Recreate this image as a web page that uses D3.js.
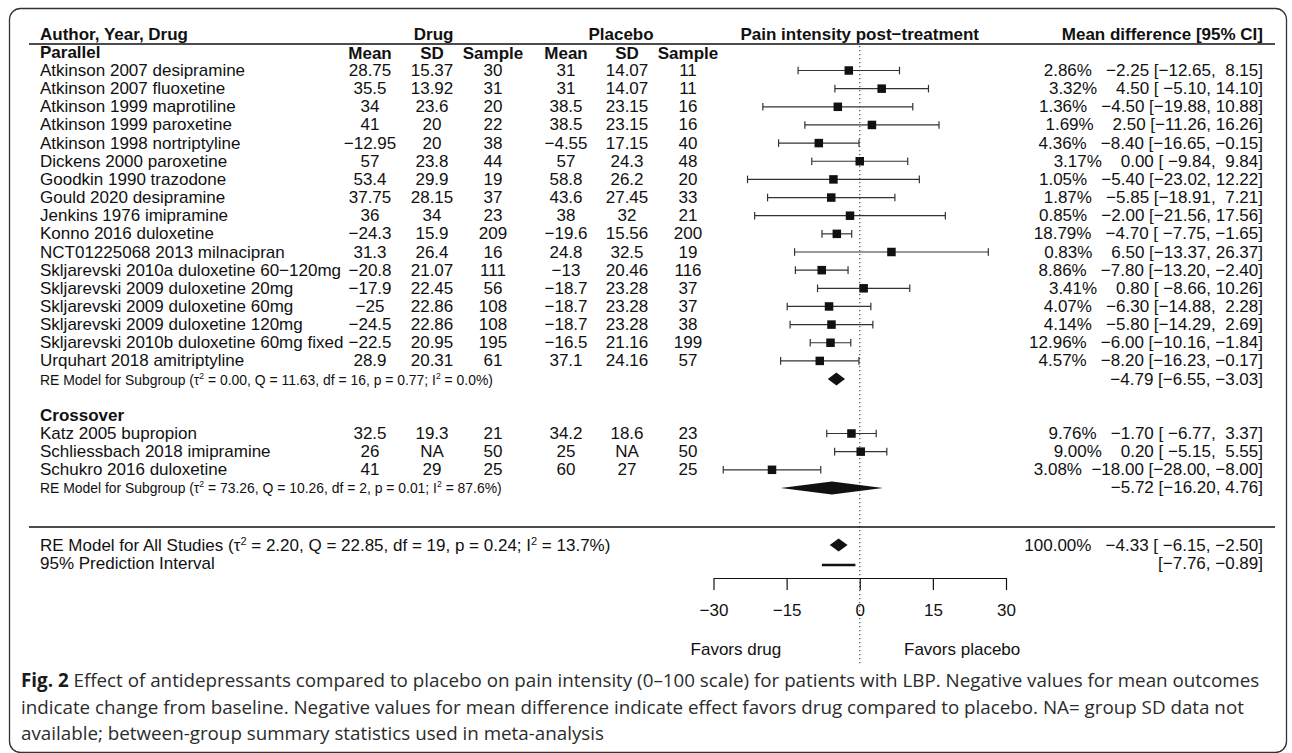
<!DOCTYPE html>
<html><head><meta charset="utf-8">
<script src="https://cdn.jsdelivr.net/npm/d3@7"></script>
<style>
html,body{margin:0;padding:0;background:#fff;}
svg{display:block;font-family:"Liberation Sans",Arial,Helvetica,sans-serif;}
text{white-space:pre;}
</style></head>
<body>
<svg id="chart" width="1292" height="753"></svg>
<script>
// ---------- DATA ----------
const parallelStudies = ["Atkinson 2007 desipramine","Atkinson 2007 fluoxetine","Atkinson 1999 maprotiline","Atkinson 1999 paroxetine","Atkinson 1998 nortriptyline","Dickens 2000 paroxetine","Goodkin 1990 trazodone","Gould 2020 desipramine","Jenkins 1976 imipramine","Konno 2016 duloxetine","NCT01225068 2013 milnacipran","Skljarevski 2010a duloxetine 60\u2212120mg","Skljarevski 2009 duloxetine 20mg","Skljarevski 2009 duloxetine 60mg","Skljarevski 2009 duloxetine 120mg","Skljarevski 2010b duloxetine 60mg fixed","Urquhart 2018 amitriptyline"];
const parallelDrugMean = [28.75,35.5,34,41,-12.95,57,53.4,37.75,36,-24.3,31.3,-20.8,-17.9,-25,-24.5,-22.5,28.9];
const parallelDrugSD = [15.37,13.92,23.6,20,20,23.8,29.9,28.15,34,15.9,26.4,21.07,22.45,22.86,22.86,20.95,20.31];
const parallelDrugN = [30,31,20,22,38,44,19,37,23,209,16,111,56,108,108,195,61];
const parallelPlacMean = [31,31,38.5,38.5,-4.55,57,58.8,43.6,38,-19.6,24.8,-13,-18.7,-18.7,-18.7,-16.5,37.1];
const parallelPlacSD = [14.07,14.07,23.15,23.15,17.15,24.3,26.2,27.45,32,15.56,32.5,20.46,23.28,23.28,23.28,21.16,24.16];
const parallelPlacN = [11,11,16,16,40,48,20,33,21,200,19,116,37,37,38,199,57];
const parallelWeight = [2.86,3.32,1.36,1.69,4.36,3.17,1.05,1.87,0.85,18.79,0.83,8.86,3.41,4.07,4.14,12.96,4.57];
const parallelMD = [-2.25,4.50,-4.50,2.50,-8.40,0.00,-5.40,-5.85,-2.00,-4.70,6.50,-7.80,0.80,-6.30,-5.80,-6.00,-8.20];
const parallelLo = [-12.65,-5.10,-19.88,-11.26,-16.65,-9.84,-23.02,-18.91,-21.56,-7.75,-13.37,-13.20,-8.66,-14.88,-14.29,-10.16,-16.23];
const parallelHi = [8.15,14.10,10.88,16.26,-0.15,9.84,12.22,7.21,17.56,-1.65,26.37,-2.40,10.26,2.28,2.69,-1.84,-0.17];

const crossStudies = ["Katz 2005 bupropion","Schliessbach 2018 imipramine","Schukro 2016 duloxetine"];
const crossDrugMean = [32.5,26,41];
const crossDrugSD = [19.3,null,29];
const crossDrugN = [21,50,25];
const crossPlacMean = [34.2,25,60];
const crossPlacSD = [18.6,null,27];
const crossPlacN = [23,50,25];
const crossWeight = [9.76,9.00,3.08];
const crossMD = [-1.70,0.20,-18.00];
const crossLo = [-6.77,-5.15,-28.00];
const crossHi = [3.37,5.55,-8.00];

// summary estimates [est, lo, hi]
const parallelRE = [-4.79,-6.55,-3.03];
const crossRE = [-5.72,-16.20,4.76];
const overallRE = [-4.33,-6.15,-2.50];
const predInterval = [-7.76,-0.89];
// heterogeneity stats [tau2, Q, df, p, I2]
const parallelStats = ["0.00","11.63","16","0.77","0.0"];
const crossStats = ["73.26","10.26","2","0.01","87.6"];
const overallStats = ["2.20","22.85","19","0.24","13.7"];

const xTicks = [-30,-15,0,15,30];
const headerCols = ["Mean","SD","Sample"];
const captionLines = [
  ["Fig. 2", " Effect of antidepressants compared to placebo on pain intensity (0\u2013100 scale) for patients with LBP. Negative values for mean outcomes"],
  ["", "indicate change from baseline. Negative values for mean difference indicate effect favors drug compared to placebo. NA= group SD data not"],
  ["", "available; between-group summary statistics used in meta-analysis"]
];

// ---------- LAYOUT ----------
const svg = d3.select("#chart");
const FS = 17;
const xLeft = 40;
const colDrug = [370, 432, 493];
const colPlac = [566, 627, 688];
const rightEdge = 1263;

const x = d3.scaleLinear().domain([-30,30]).range([713.5,1006]);
const y = d3.scaleLinear().domain([0,1]).range([76,94.15]); // baseline of row i
const yc = i => y(i) - 5.5;

const minus = s => String(s).replace(/-/g,"\u2212");
const fmtNum = v => v === null ? "NA" : minus(v);
const pad = (s,w) => " ".repeat(Math.max(0,w - s.length)) + s;
const f2 = v => minus(v.toFixed(2));

function txt(xp, yp, s, o = {}) {
  const t = svg.append("text")
    .attr("transform", `translate(${xp},${yp}) scale(${o.sx||1},1)`)
    .attr("text-anchor", o.anchor || "start")
    .attr("xml:space","preserve")
    .style("font-size", (o.size||FS)+"px")
    .style("font-weight", o.weight||"normal")
    .style("fill", o.fill||"#111");
  if (o.family) t.style("font-family", o.family);
  t.text(s);
  return t;
}
function statText(xp, yp, label, st, size, sx) {
  const t = svg.append("text")
    .attr("transform", `translate(${xp},${yp}) scale(${sx},1)`)
    .attr("xml:space","preserve")
    .style("font-size", size+"px").style("fill","#111");
  const sup = Math.round(size*0.38), ss = Math.round(size*0.62);
  t.append("tspan").text(label + " (\u03c4");
  t.append("tspan").attr("dy",-sup).style("font-size",ss+"px").text("2");
  t.append("tspan").attr("dy",sup).text(` = ${st[0]}, Q = ${st[1]}, df = ${st[2]}, p = ${st[3]}; I`);
  t.append("tspan").attr("dy",-sup).style("font-size",ss+"px").text("2");
  t.append("tspan").attr("dy",sup).text(` = ${st[4]}%)`);
}

// outer box
svg.append("rect").attr("x",9.5).attr("y",8.5).attr("width",1277).attr("height",744)
  .attr("rx",11).attr("fill","none").attr("stroke","#333").attr("stroke-width",1.3);

// zero reference line
svg.append("line").attr("x1",x(0)).attr("x2",x(0)).attr("y1",46).attr("y2",666)
  .attr("stroke","#222").attr("stroke-width",1).attr("stroke-dasharray","1.2,2.8");

// headers
txt(xLeft, y(-2), "Author, Year, Drug", {weight:"bold"});
txt(d3.mean(colDrug)+2, y(-2), "Drug", {weight:"bold", anchor:"middle"});
txt(d3.mean(colPlac)-6, y(-2), "Placebo", {weight:"bold", anchor:"middle"});
txt(x(0), y(-2), "Pain intensity post\u2212treatment", {weight:"bold", anchor:"middle"});
txt(rightEdge, y(-2), "Mean difference [95% CI]", {weight:"bold", anchor:"end"});
svg.append("line").attr("x1",29).attr("x2",1275).attr("y1",44).attr("y2",44).attr("stroke","#111").attr("stroke-width",1.5);
txt(xLeft, y(-1), "Parallel", {weight:"bold"});
headerCols.forEach((h,k)=>{
  txt(colDrug[k], y(-1)+1, h, {weight:"bold", anchor:"middle"});
  txt(colPlac[k], y(-1)+1, h, {weight:"bold", anchor:"middle"});
});

function annot(w, e, l, h) {
  return `${w.toFixed(2)}%  ${pad(f2(e),6)} [${pad(f2(l),6)}, ${pad(f2(h),5)}]`;
}

function drawStudy(row, name, dm, dsd, dn, pm, psd, pn, w, e, l, h) {
  txt(xLeft, y(row), name);
  [dm,dsd,dn].forEach((v,k)=>txt(colDrug[k], y(row), fmtNum(v), {anchor:"middle"}));
  [pm,psd,pn].forEach((v,k)=>txt(colPlac[k], y(row), fmtNum(v), {anchor:"middle"}));
  const cy = yc(row);
  svg.append("line").attr("x1",x(l)).attr("x2",x(h)).attr("y1",cy).attr("y2",cy).attr("stroke","#333").attr("stroke-width",1.2);
  [l,h].forEach(v=>svg.append("line").attr("x1",x(v)).attr("x2",x(v)).attr("y1",cy-3.8).attr("y2",cy+3.8).attr("stroke","#333").attr("stroke-width",1.2));
  const s = 8.5;
  svg.append("rect").attr("x",x(e)-s/2).attr("y",cy-s/2).attr("width",s).attr("height",s).attr("fill","#111");
  txt(rightEdge, y(row), annot(w,e,l,h), {anchor:"end"});
}
function diamond(cy, v) {
  const hh = 6.5;
  svg.append("path").attr("d",`M${x(v[1])},${cy}L${x(v[0])},${cy-hh}L${x(v[2])},${cy}L${x(v[0])},${cy+hh}Z`).attr("fill","#111");
}

parallelStudies.forEach((n,i)=>drawStudy(i, n, parallelDrugMean[i], parallelDrugSD[i], parallelDrugN[i],
  parallelPlacMean[i], parallelPlacSD[i], parallelPlacN[i], parallelWeight[i], parallelMD[i], parallelLo[i], parallelHi[i]));
statText(xLeft, y(17), "RE Model for Subgroup", parallelStats, 14.5, 0.96);
diamond(yc(17), parallelRE);
txt(rightEdge, y(17), `${f2(parallelRE[0])} [${f2(parallelRE[1])}, ${f2(parallelRE[2])}]`, {anchor:"end"});

txt(xLeft, y(19), "Crossover", {weight:"bold"});
crossStudies.forEach((n,i)=>drawStudy(20+i, n, crossDrugMean[i], crossDrugSD[i], crossDrugN[i],
  crossPlacMean[i], crossPlacSD[i], crossPlacN[i], crossWeight[i], crossMD[i], crossLo[i], crossHi[i]));
statText(xLeft, y(23), "RE Model for Subgroup", crossStats, 14.5, 0.96);
diamond(yc(23), crossRE);
txt(rightEdge, y(23), `${f2(crossRE[0])} [${f2(crossRE[1])}, ${f2(crossRE[2])}]`, {anchor:"end"});

// overall section
svg.append("line").attr("x1",29).attr("x2",1275).attr("y1",527).attr("y2",527).attr("stroke","#111").attr("stroke-width",1.5);
const yAll = 550.5, yPI = 568.5;
statText(xLeft, yAll, "RE Model for All Studies", overallStats, 17, 1);
txt(xLeft, yPI, "95% Prediction Interval");
diamond(yAll-5.5, overallRE);
svg.append("line").attr("x1",x(predInterval[0])).attr("x2",x(predInterval[1])).attr("y1",yPI-3.5).attr("y2",yPI-3.5).attr("stroke","#111").attr("stroke-width",2.5);
txt(rightEdge, yAll, `100.00%  ${pad(f2(overallRE[0]),6)} [${pad(f2(overallRE[1]),6)}, ${f2(overallRE[2])}]`, {anchor:"end"});
txt(rightEdge, yPI, `[${f2(predInterval[0])}, ${f2(predInterval[1])}]`, {anchor:"end"});

// axis
const axis = d3.axisBottom(x).tickValues(xTicks).tickSize(12).tickSizeOuter(0).tickPadding(14)
  .tickFormat(d=>minus(d));
const ax = svg.append("g").attr("transform","translate(0,578)").call(axis);
ax.select(".domain").attr("stroke","#111").attr("stroke-width",1.2);
ax.selectAll(".tick line").attr("stroke","#111").attr("stroke-width",1.2);
ax.selectAll(".tick text").style("font-size",FS+"px").style("font-family","\"Liberation Sans\",Arial,sans-serif").attr("fill","#111");

txt(x(-25.4), 655, "Favors drug", {anchor:"middle"});
txt(x(21), 655, "Favors placebo", {anchor:"middle"});

// caption
captionLines.forEach((ln,i)=>{
  const t = svg.append("text").attr("x",21).attr("y",687+i*26.5).attr("xml:space","preserve")
    .style("font-family","\"Open Sans\",\"Noto Sans\",sans-serif").style("font-size","18.8px").style("fill","#2b2b2b");
  if (ln[0]) t.append("tspan").style("font-weight","bold").style("fill","#1a1a1a").text(ln[0]);
  t.append("tspan").text(ln[1]);
});
</script>
</body></html>
